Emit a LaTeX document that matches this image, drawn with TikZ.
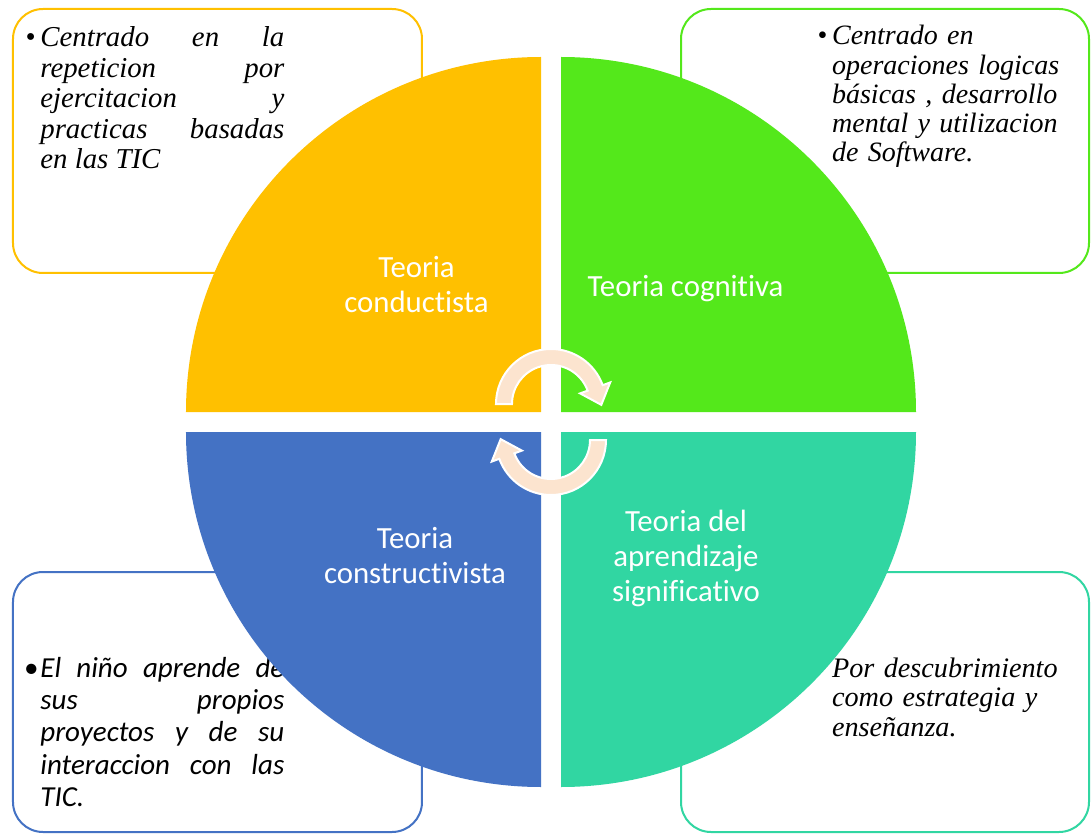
\documentclass[tikz,border=0pt]{standalone}
\usepackage{fontspec}
\setmainfont{Liberation Serif}
\newfontfamily\calibri[Ligatures=NoCommon]{Carlito}
\usetikzlibrary{calc}
\definecolor{quadorange}{HTML}{FFC000}
\definecolor{quadgreen}{HTML}{54E81B}
\definecolor{quadteal}{HTML}{31D6A2}
\definecolor{quadblue}{HTML}{4472C4}
\definecolor{arrowpeach}{HTML}{FCE4CF}
\hbadness=10000
\tikzset{
  notebox/.style={line width=1pt, rounded corners=15pt, fill=white},
  notetext/.style={anchor=base west, inner sep=0pt, text width=122pt, align=justify,
    font=\itshape\fontsize{14.4}{15.2}\selectfont},
  quadlabel/.style={anchor=base, inner sep=0pt, align=center, text=white,
    font=\calibri\fontsize{15.4}{17.5}\selectfont},
  cyclearrow/.style={fill=arrowpeach, draw=white, line width=1pt, line join=miter}
}

\begin{document}
\begin{tikzpicture}[x=0.5pt, y=0.5pt]
  \path[use as bounding box, fill=white] (-551,-413) rectangle (541,422);

  % Boxes with the notes (behind the circle)
  \draw[notebox, draw=quadorange] (-538,413) rectangle (-129,149);
  \draw[notebox, draw=quadgreen] (130,413) rectangle (538,149);
  \draw[notebox, draw=quadblue] (-538,-150) rectangle (-129,-410);
  \draw[notebox, draw=quadteal] (130,-150) rectangle (538,-410);

  % Notes
  \node[notetext] (conductnote) at (-511,375)
    {\llap{\textbullet\hspace{2.5pt}}Centrado en la\linebreak repeticion por\linebreak
     ejercitacion y\linebreak practicas basadas\linebreak en las TIC};
  \node[notetext, align=left, text width=125pt, font=\itshape\fontsize{14}{14.6}\selectfont] (cognitnote) at (280.7,377)
    {\llap{\textbullet\hspace{2.5pt}}Centrado en\\ operaciones logicas\\ básicas , desarrollo\\
     mental y utilizacion\\ de Software.};
  \node[notetext, font=\calibri\itshape\fontsize{14.5}{16.2}\selectfont] (constructnote) at (-511,-255)
    {\llap{\textbullet\hspace{1pt}}El niño aprende de\linebreak sus propios\linebreak
     proyectos y de su\linebreak interaccion con las\linebreak TIC.};
  \node[notetext, align=left, text width=125pt, font=\itshape\fontsize{14.1}{14.8}\selectfont] (signifnote) at (280.7,-255)
    {Por descubrimiento\\ como estrategia y\\ enseñanza.};

  % Quadrants of the circle
  \fill[quadorange] (-10,10) -- (-365,10) arc[start angle=180, end angle=90, radius=355] -- cycle;
  \fill[quadgreen] (10,10) -- (10,365) arc[start angle=90, end angle=0, radius=355] -- cycle;
  \fill[quadblue] (-10,-10) -- (-10,-365) arc[start angle=270, end angle=180, radius=355] -- cycle;
  \fill[quadteal] (10,-10) -- (365,-10) arc[start angle=0, end angle=-90, radius=355] -- cycle;

  % Labels (placed by the baseline of their last line)
  \node[quadlabel] (conductlabel) at (-134.5,109) {Teoria\\conductista};
  \node[quadlabel] (cognitlabel) at (134.5,125) {Teoria cognitiva};
  \node[quadlabel] (constructlabel) at (-136,-161) {Teoria\\constructivista};
  \node[quadlabel] (signiflabel) at (135,-179) {Teoria del\\aprendizaje\\significativo};

  % Circular arrows in the middle
  \coordinate (uc) at (0,18);
  \coordinate (lc) at (0,-18);
  \draw[cyclearrow] ($(uc)+(180:55)$) arc[start angle=180, end angle=20, radius=55]
    -- ($(uc)+(20:63)$) -- ($(uc)+(20:47)+(-70:18)$) -- ($(uc)+(20:31)$)
    -- ($(uc)+(20:39)$) arc[start angle=20, end angle=180, radius=39] -- cycle;
  \draw[cyclearrow] ($(lc)+(0:55)$) arc[start angle=0, end angle=-160, radius=55]
    -- ($(lc)+(-160:63)$) -- ($(lc)+(-160:47)+(110:18)$) -- ($(lc)+(-160:31)$)
    -- ($(lc)+(-160:39)$) arc[start angle=-160, end angle=0, radius=39] -- cycle;
\end{tikzpicture}
\end{document}
